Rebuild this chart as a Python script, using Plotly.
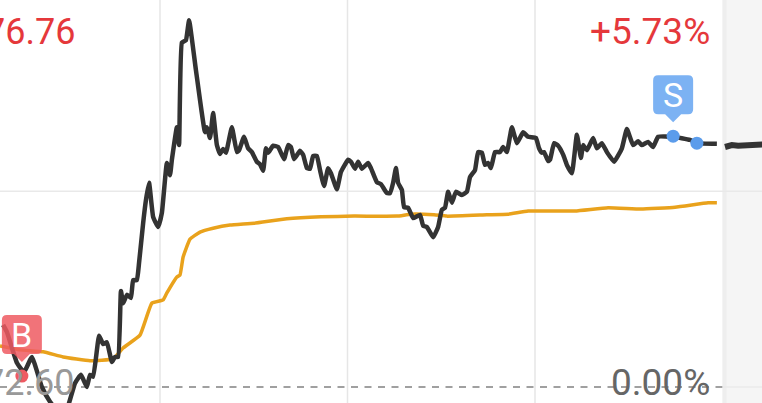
import plotly.graph_objects as go

# minutes into the session / percent change from 72.60
price_min = [9.8,11.0,14.2,16.5,19.0,22.2,24.8,27.4,29.9,31.2,32.8,34.7,36.6,37.6,38.6,40.5,41.8,43.0,44.6,45.6,46.6,47.5,48.2,49.4,50.7,51.4,52.6,53.3,54.6,55.5,56.5,57.8,59.4,60.6,62.2,63.2,63.8,65.4,66.1,67.0,68.3,69.3,71.5,74.4,75.0,76.0,77.0,78.2,79.2,80.2,81.1,83.0,84.6,85.3,86.9,88.2,89.4,91.0,92.0,93.0,93.9,94.6,96.2,97.8,99.7,101.0,101.9,102.9,104.8,105.8,107.0,108.0,109.0,110.2,111.2,112.5,113.8,114.7,116.6,117.9,120.2,121.1,122.4,123.4,124.6,126.6,127.5,129.4,130.7,132.6,133.6,134.6,135.5,136.2,137.4,138.1,139.4,141.0,143.2,144.2,145.4,147.4,149.0,150.2,151.2,152.2,153.4,154.7,156.6,158.2,159.2,160.8,161.8,163.0,164.0,165.0,165.9,167.2,168.8,169.8,171.0,172.6,174.2,176.2,177.8,180.3,181.3,182.2,182.9,184.2,184.8,186.1,187.4,189.0,190.2,191.8,193.4,194.7,195.4,196.6,198.6,199.8,201.4,203.0,205.3,207.8,209.4,211.4,213.0,214.2,216.2,217.8,219.4,224.2,229.6,231.8,238.2]
price_pct = [0.97,0.86,0.38,0.23,0.47,0.0,-0.23,-0.39,-0.39,-0.20,0.06,0.19,0.0,0.19,0.16,0.80,0.67,0.70,0.39,0.47,0.47,1.50,1.31,1.44,1.39,1.67,1.67,1.94,2.56,2.92,3.19,2.66,2.50,2.72,3.50,3.31,3.55,4.06,3.78,5.38,5.42,5.73,4.95,3.98,4.06,3.89,4.28,3.78,3.64,3.72,3.66,4.06,3.67,3.70,3.91,3.73,3.67,3.52,3.48,3.38,3.73,3.66,3.77,3.75,3.56,3.78,3.75,3.56,3.69,3.63,3.42,3.41,3.61,3.61,3.39,3.14,3.42,3.34,3.09,3.36,3.55,3.52,3.41,3.52,3.41,3.50,3.42,3.20,3.17,3.03,3.03,3.19,3.42,3.19,3.08,2.81,2.80,2.64,2.69,2.52,2.50,2.34,2.50,2.77,2.80,3.05,2.88,3.05,3.00,3.05,3.28,3.39,3.67,3.66,3.47,3.50,3.42,3.67,3.67,3.75,3.67,4.06,3.81,3.98,3.91,3.89,3.73,3.66,3.67,3.53,3.55,3.81,3.77,3.63,3.47,3.34,3.94,3.58,3.78,3.70,3.89,3.73,3.81,3.67,3.52,3.73,4.03,3.78,3.84,3.78,3.83,3.75,3.91,3.91,3.86,3.81,3.80]

avg_min = [8.8,15.2,22.6,29.0,37.6,45.0,48.2,53.6,57.4,61.0,62.2,65.4,66.4,67.4,69.6,72.8,77.0,82.4,90.1,100.6,111.5,122.1,135.8,140.3,147.7,151.8,164.6,171.4,177.8,192.8,203.4,213.9,224.8,235.4,238.2]
avg_pct = [0.64,0.58,0.55,0.47,0.41,0.44,0.61,0.81,1.31,1.36,1.47,1.72,1.75,2.03,2.31,2.42,2.48,2.53,2.56,2.63,2.66,2.67,2.67,2.70,2.69,2.67,2.69,2.70,2.75,2.75,2.80,2.78,2.81,2.88,2.88]

after_min = [240.8,243,245,247,249,251,253]
after_pct = [3.75,3.78,3.77,3.78,3.78,3.79,3.79]

buy_min, buy_pct = [15.8], [0.17]
sell_min, sell_pct = [224.2, 231.8], [3.92, 3.81]

x_grid = [60, 120, 180]
y_grid = [3.06]
X_RANGE = [8.8, 252.64]
Y_RANGE = [-0.25, 6.047]
SESSION_END = 240


def badge(xa, ya, color):
    w, r, top, b, tip = 20, 5, 61, 22, 14
    path = (f"M {-w+r},{top} L {w-r},{top} Q {w},{top} {w},{top-r} L {w},{b+r} Q {w},{b} {w-r},{b} "
            f"L 8,{b} L 0,{tip} L -8,{b} L {-w+r},{b} Q {-w},{b} {-w},{b+r} L {-w},{top-r} Q {-w},{top} {-w+r},{top} Z")
    return dict(type="path", xref="x", yref="y", xsizemode="pixel", ysizemode="pixel",
                xanchor=xa, yanchor=ya, path=path, fillcolor=color, line_width=0, layer="above")


LINE_SMOOTH = dict(shape="spline", smoothing=0.35)
fig = go.Figure()
fig.add_trace(go.Scatter(x=avg_min, y=avg_pct, mode="lines", line=dict(color="#E9A21C", width=3.5, **LINE_SMOOTH), hoverinfo="skip"))
fig.add_trace(go.Scatter(x=price_min, y=price_pct, mode="lines", line=dict(color="#333333", width=4.5, **LINE_SMOOTH), hoverinfo="skip"))
fig.add_trace(go.Scatter(x=after_min, y=after_pct, mode="lines", line=dict(color="#333333", width=6), hoverinfo="skip"))
fig.add_trace(go.Scatter(x=buy_min, y=buy_pct, mode="markers", marker=dict(color="#EE5A62", size=13), hoverinfo="skip"))
fig.add_trace(go.Scatter(x=sell_min, y=sell_pct, mode="markers", marker=dict(color="#5B9CEB", size=13), hoverinfo="skip"))

shapes = [dict(type="rect", xref="x", yref="paper", x0=SESSION_END, x1=X_RANGE[1], y0=0, y1=1,
               fillcolor="#F5F5F5", line_width=0, layer="below"),
          dict(type="rect", xref="x", yref="paper", x0=SESSION_END, x1=SESSION_END + 1.3, y0=0, y1=1,
               fillcolor="#EEEEEE", line_width=0, layer="below")]
for g in x_grid:
    shapes.append(dict(type="line", xref="x", yref="paper", x0=g, x1=g, y0=0, y1=1,
                       line=dict(color="#E6E6E6", width=1.5), layer="below"))
for g in y_grid:
    shapes.append(dict(type="line", xref="paper", yref="y", x0=0, x1=1, y0=g, y1=g,
                       line=dict(color="#E9E9E9", width=1.5), layer="below"))
shapes.append(dict(type="line", xref="x", yref="y", x0=X_RANGE[0], x1=SESSION_END, y0=0, y1=0,
                   line=dict(color="#A0A0A0", width=2, dash="7px,6.5px"), layer="below"))
shapes.append(dict(type="line", xref="x", yref="y", x0=SESSION_END, x1=X_RANGE[1], y0=0, y1=0,
                   line=dict(color="#EAEAEA", width=1.5), layer="below"))
shapes.append(badge(buy_min[0], buy_pct[0], "rgba(238,90,98,0.85)"))
shapes.append(badge(sell_min[0], sell_pct[0], "rgba(110,170,242,0.9)"))


def txt(x, y, s, color, size, xanchor="right"):
    return dict(x=x, y=y, xref="x", yref="y", text=s, showarrow=False, xanchor=xanchor, yanchor="middle",
                font=dict(family="Roboto", size=size, color=color), align="right")


annotations = [
    txt(33.5, 5.55, "76.76", "#E5383B", 36),
    txt(236.5, 5.55, "+5.73%", "#E5383B", 37),
    txt(33.2, 0.07, "72.60", "#999999", 36),
    txt(236.5, 0.07, "0.00%", "#666666", 37),
    dict(x=buy_min[0], y=buy_pct[0], xref="x", yref="y", text="B", showarrow=False, yshift=41,
         font=dict(family="Roboto", size=34, color="white")),
    dict(x=sell_min[0], y=sell_pct[0], xref="x", yref="y", text="S", showarrow=False, yshift=41,
         font=dict(family="Roboto", size=34, color="white")),
]

fig.update_layout(
    width=762, height=403, margin=dict(l=0, r=0, t=0, b=0), showlegend=False,
    plot_bgcolor="white", paper_bgcolor="white",
    xaxis=dict(range=X_RANGE, visible=False, fixedrange=True),
    yaxis=dict(range=Y_RANGE, visible=False, fixedrange=True),
    shapes=shapes, annotations=annotations,
)
fig.write_html("out.html", config={"displayModeBar": False},
               post_script="document.body.style.margin='0';document.documentElement.style.overflow='hidden';")
